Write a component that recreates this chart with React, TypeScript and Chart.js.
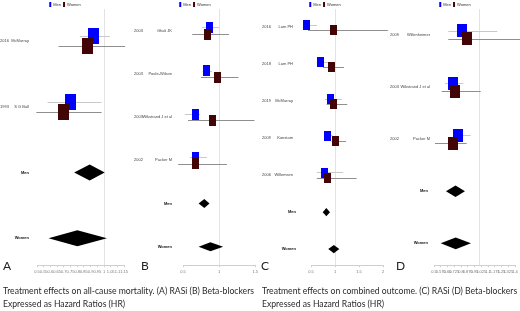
import React, { useEffect, useRef } from "react";
import { Chart, registerables } from "chart.js";

Chart.register(...registerables);
Chart.defaults.font.family = '"Liberation Sans", Arial, sans-serif';

const SERIES = ["Men", "Women"];
const POOLED_LABELS = ["Men", "Women"];
const REF_VALUE = 1;

// ---------- Panel A : RASi, all-cause mortality ----------
const A_YEARS = ["2016", "1993"];
const A_STUDIES = ["McMurray", "S G Ball"];
const A_MEN_HR = [0.925, 0.747];
const A_MEN_LO = [0.821, 0.579];
const A_MEN_HI = [1.045, 0.982];
const A_WOMEN_HR = [0.874, 0.696];
const A_WOMEN_LO = [0.661, 0.495];
const A_WOMEN_HI = [1.157, 0.982];
const A_POOLED_MEN = [0.777, 0.893, 1.005]; // lo, est, hi
const A_POOLED_WOMEN = [0.586, 0.801, 1.022];
const A_TICKS = [0.5, 0.55, 0.6, 0.65, 0.7, 0.75, 0.8, 0.85, 0.9, 0.95, 1, 1.05, 1.1, 1.15];

// ---------- Panel B : Beta-blockers, all-cause mortality ----------
const B_YEARS = ["2003", "2003", "2003", "2002"];
const B_STUDIES = ["Ghali JK", "Poole-Wilson", "Wikstrand J et al", "Packer M"];
const B_MEN_HR = [0.867, 0.82, 0.672, 0.672];
const B_MEN_LO = [0.765, 0.77, 0.526, 0.593];
const B_MEN_HI = [1.003, 0.9, 0.738, 0.831];
const B_WOMEN_HR = [0.838, 0.983, 0.915, 0.672];
const B_WOMEN_LO = [0.628, 0.748, 0.57, 0.434];
const B_WOMEN_HI = [1.136, 1.268, 1.49, 1.109];
const B_POOLED_MEN = [0.716, 0.795, 0.867];
const B_POOLED_WOMEN = [0.716, 0.88, 1.056];
const B_TICKS = [0.5, 1, 1.5];

// ---------- Panel C : RASi, combined outcome ----------
const C_YEARS = ["2016", "2018", "2019", "2009", "2006"];
const C_STUDIES = ["Lam PH", "Lam PH", "McMurray", "Konstam", "Willemsen"];
const C_MEN_HR = [0.41, 0.694, 0.9125, 0.854, 0.79];
const C_MEN_LO = [0.4375, 0.62, 0.79, 0.8, 0.62];
const C_MEN_HI = [0.625, 0.86, 1.14, 0.95, 1.17];
const C_WOMEN_HR = [0.979, 0.933, 0.979, 1.017, 0.848];
const C_WOMEN_LO = [0.4375, 0.75, 0.827, 0.93, 0.62];
const C_WOMEN_HI = [2.1, 1.1875, 1.256, 1.23, 1.45];
const C_POOLED_MEN = [0.744, 0.819, 0.896];
const C_POOLED_WOMEN = [0.86, 0.975, 1.09];
const C_TICKS = [0.5, 1, 1.5, 2];

// ---------- Panel D : Beta-blockers, combined outcome ----------
const D_YEARS = ["2009", "2003", "2002"];
const D_STUDIES = ["Willenheimer", "Wikstrand J et al", "Packer M"];
const D_MEN_HR = [0.811, 0.711, 0.759];
const D_MEN_LO = [0.659, 0.622, 0.733];
const D_MEN_HI = [1.203, 0.826, 0.908];
const D_WOMEN_HR = [0.859, 0.728, 0.711];
const D_WOMEN_LO = [0.659, 0.586, 0.511];
const D_WOMEN_HI = [1.456, 1.019, 0.863];
const D_POOLED_MEN = [0.633, 0.739, 0.844];
const D_POOLED_WOMEN = [0.574, 0.741, 0.911];
const D_TICKS = [0.5, 0.575, 0.65, 0.725, 0.8, 0.875, 0.95, 1.025, 1.1, 1.175, 1.25, 1.325, 1.4];

const MEN_COLOR = "#0000ff";
const WOMEN_COLOR = "#420404";
const MEN_CI = "#c9c9c9";
const WOMEN_CI = "#8f8f8f";

type Panel = {
  letter: string;
  years: string[];
  studies: string[];
  menHR: number[]; menLo: number[]; menHi: number[];
  womenHR: number[]; womenLo: number[]; womenHi: number[];
  pooledMen: number[]; pooledWomen: number[];
  ticks: number[];
  // layout/style
  xMin: number; xMax: number; yMin: number; yMax: number;
  padL: number; padR: number;
  sqW: number; sqH: number; off: number; dh: number;
  yearX: number; nameX: number; pooledX: number;
};

const PANELS: Panel[] = [
  {
    letter: "A", years: A_YEARS, studies: A_STUDIES,
    menHR: A_MEN_HR, menLo: A_MEN_LO, menHi: A_MEN_HI,
    womenHR: A_WOMEN_HR, womenLo: A_WOMEN_LO, womenHi: A_WOMEN_HI,
    pooledMen: A_POOLED_MEN, pooledWomen: A_POOLED_WOMEN, ticks: A_TICKS,
    xMin: 0.5, xMax: 1.15, yMin: -0.365, yMax: 3.412,
    padL: 37, padR: 0,
    sqW: 11, sqH: 16, off: 4.9, dh: 8,
    yearX: 0, nameX: 29, pooledX: 29,
  },
  {
    letter: "B", years: B_YEARS, studies: B_STUDIES,
    menHR: B_MEN_HR, menLo: B_MEN_LO, menHi: B_MEN_HI,
    womenHR: B_WOMEN_HR, womenLo: B_WOMEN_LO, womenHi: B_WOMEN_HI,
    pooledMen: B_POOLED_MEN, pooledWomen: B_POOLED_WOMEN, ticks: B_TICKS,
    xMin: 0.5, xMax: 1.5, yMin: -0.319, yMax: 5.43,
    padL: 53, padR: 2,
    sqW: 7, sqH: 10.5, off: 3.3, dh: 4.5,
    yearX: 4, nameX: 42, pooledX: 42,
  },
  {
    letter: "C", years: C_YEARS, studies: C_STUDIES,
    menHR: C_MEN_HR, menLo: C_MEN_LO, menHi: C_MEN_HI,
    womenHR: C_WOMEN_HR, womenLo: C_WOMEN_LO, womenHi: C_WOMEN_HI,
    pooledMen: C_POOLED_MEN, pooledWomen: C_POOLED_WOMEN, ticks: C_TICKS,
    xMin: 0.5, xMax: 2, yMin: -0.278, yMax: 6.435,
    padL: 51, padR: 7,
    sqW: 7, sqH: 9.5, off: 2.7, dh: 4.2,
    yearX: 2, nameX: 33, pooledX: 36,
  },
  {
    letter: "D", years: D_YEARS, studies: D_STUDIES,
    menHR: D_MEN_HR, menLo: D_MEN_LO, menHi: D_MEN_HI,
    womenHR: D_WOMEN_HR, womenLo: D_WOMEN_LO, womenHi: D_WOMEN_HI,
    pooledMen: D_POOLED_MEN, pooledWomen: D_POOLED_WOMEN, ticks: D_TICKS,
    xMin: 0.5, xMax: 1.4, yMin: -0.339, yMax: 4.419,
    padL: 44, padR: 5,
    sqW: 9.5, sqH: 12.5, off: 4, dh: 5.8,
    yearX: 0, nameX: 40, pooledX: 38,
  },
];

function makeForestPlugin(p: Panel) {
  return {
    id: "forest" + p.letter,
    beforeDatasetsDraw(chart: any) {
      const { ctx, chartArea: ca, scales } = chart;
      const rx = Math.round(scales.x.getPixelForValue(REF_VALUE)) + 0.5;
      ctx.save();
      ctx.strokeStyle = "#e3e3e3";
      ctx.lineWidth = 1;
      ctx.beginPath();
      ctx.moveTo(rx, ca.top - 8);
      ctx.lineTo(rx, ca.bottom);
      ctx.stroke();
      ctx.restore();
    },
    afterDatasetsDraw(chart: any) {
      const { ctx } = chart;
      const x = chart.scales.x;
      const y = chart.scales.y;
      const n = p.studies.length;
      ctx.save();
      const hline = (lo: number, hi: number, py: number, color: string) => {
        const yy = Math.round(py) + 0.5;
        ctx.strokeStyle = color;
        ctx.lineWidth = 1;
        ctx.beginPath();
        ctx.moveTo(x.getPixelForValue(lo), yy);
        ctx.lineTo(x.getPixelForValue(hi), yy);
        ctx.stroke();
      };
      const box = (v: number, py: number, color: string) => {
        const cx = x.getPixelForValue(v);
        ctx.fillStyle = color;
        ctx.fillRect(Math.round(cx - p.sqW / 2), Math.round(py - p.sqH / 2), Math.round(p.sqW), Math.round(p.sqH));
      };
      for (let i = 0; i < n; i++) {
        const cy = y.getPixelForValue(i);
        hline(p.menLo[i], p.menHi[i], cy - p.off, MEN_CI);
        hline(p.womenLo[i], p.womenHi[i], cy + p.off, WOMEN_CI);
      }
      for (let i = 0; i < n; i++) box(p.menHR[i], y.getPixelForValue(i) - p.off, MEN_COLOR);
      for (let i = 0; i < n; i++) box(p.womenHR[i], y.getPixelForValue(i) + p.off, WOMEN_COLOR);

      const diamond = (ci: number[], row: number) => {
        const cy = y.getPixelForValue(row);
        ctx.fillStyle = "#000";
        ctx.beginPath();
        ctx.moveTo(x.getPixelForValue(ci[0]), cy);
        ctx.lineTo(x.getPixelForValue(ci[1]), cy - p.dh);
        ctx.lineTo(x.getPixelForValue(ci[2]), cy);
        ctx.lineTo(x.getPixelForValue(ci[1]), cy + p.dh);
        ctx.closePath();
        ctx.fill();
      };
      diamond(p.pooledMen, n);
      diamond(p.pooledWomen, n + 1);

      ctx.textBaseline = "middle";
      ctx.fillStyle = "#444";
      ctx.font = '4px "Liberation Sans", Arial, sans-serif';
      for (let i = 0; i < n; i++) {
        const cy = y.getPixelForValue(i);
        ctx.textAlign = "left";
        ctx.fillText(p.years[i], p.yearX, cy);
        ctx.textAlign = "right";
        ctx.fillText(p.studies[i], p.nameX, cy);
      }
      ctx.fillStyle = "#111";
      ctx.font = 'bold 4px "Liberation Sans", Arial, sans-serif';
      ctx.textAlign = "right";
      POOLED_LABELS.forEach((lab, k) => {
        ctx.fillText(lab, p.pooledX, y.getPixelForValue(n + k));
      });
      ctx.restore();
    },
  };
}

function ForestPanel({ p, left }: { p: Panel; left: number }) {
  const ref = useRef<HTMLCanvasElement>(null);
  useEffect(() => {
    const canvas = ref.current!;
    const chart = new Chart(canvas, {
      type: "scatter",
      data: {
        datasets: [
          {
            label: SERIES[0],
            data: p.menHR.map((v, i) => ({ x: v, y: i })),
            backgroundColor: MEN_COLOR,
            borderColor: MEN_COLOR,
            borderWidth: 0,
            pointRadius: 0,
            pointHoverRadius: 0,
          },
          {
            label: SERIES[1],
            data: p.womenHR.map((v, i) => ({ x: v, y: i })),
            backgroundColor: WOMEN_COLOR,
            borderColor: WOMEN_COLOR,
            borderWidth: 0,
            pointRadius: 0,
            pointHoverRadius: 0,
          },
        ],
      },
      options: {
        animation: false,
        responsive: false,
        maintainAspectRatio: false,
        events: [],
        layout: { padding: 0 },
        plugins: {
          legend: {
            display: true,
            position: "top",
            labels: {
              boxWidth: 2,
              boxHeight: 5,
              padding: 2,
              color: "#333",
              font: { size: 4 },
            },
          },
          tooltip: { enabled: false },
        },
        scales: {
          x: {
            type: "linear",
            position: "bottom",
            min: p.xMin,
            max: p.xMax,
            afterBuildTicks: (a: any) => {
              a.ticks = p.ticks.map((v) => ({ value: v }));
            },
            ticks: {
              autoSkip: false,
              maxRotation: 0,
              minRotation: 0,
              padding: 2,
              color: "#777",
              font: { size: 4 },
              callback: (v: any) => String(v),
            },
            grid: { drawOnChartArea: false, drawTicks: true, tickLength: 2, color: "#cfcfcf" },
            border: { color: "#cfcfcf" },
          },
          y: {
            type: "linear",
            position: "left",
            reverse: true,
            min: p.yMin,
            max: p.yMax,
            ticks: { display: false },
            grid: { display: false, drawTicks: false },
            border: { display: false },
            afterFit: (a: any) => {
              a.width = p.padL;
            },
          },
          yR: {
            type: "linear",
            position: "right",
            ticks: { display: false },
            grid: { display: false, drawTicks: false },
            border: { display: false },
            afterFit: (a: any) => {
              a.width = p.padR;
            },
          },
        },
      } as any,
      plugins: [makeForestPlugin(p)],
    });
    return () => chart.destroy();
  }, [p]);
  return (
    <canvas
      ref={ref}
      width={130}
      height={276}
      style={{ position: "absolute", left, top: 0, width: 130, height: 276 }}
    />
  );
}

const LETTER_POS = [
  { l: 3, t: 259 },
  { l: 141, t: 259 },
  { l: 261, t: 259 },
  { l: 396, t: 259 },
];

export default function App() {
  const capStyle: React.CSSProperties = {
    position: "absolute",
    top: 283.5,
    fontFamily: "Lato, 'Open Sans', sans-serif",
    fontSize: 9.4,
    lineHeight: "13px",
    color: "#2a2a2a",
    whiteSpace: "nowrap",
    transform: "scaleX(0.92)",
    transformOrigin: "0 0",
  };
  return (
    <div
      style={{
        position: "absolute",
        left: 0,
        top: 0,
        width: 520,
        height: 311,
        background: "#fff",
        overflow: "hidden",
      }}
    >
      {PANELS.map((p, i) => (
        <ForestPanel key={p.letter} p={p} left={i * 130} />
      ))}
      {PANELS.map((p, i) => (
        <div
          key={"L" + p.letter}
          style={{
            position: "absolute",
            left: LETTER_POS[i].l,
            top: LETTER_POS[i].t,
            fontFamily: "Lato, 'Open Sans', sans-serif",
            fontSize: 12,
            lineHeight: "14px",
            color: "#222",
          }}
        >
          {p.letter}
        </div>
      ))}
      <div style={{ ...capStyle, left: 3 }}>
        Treatment effects on all-cause mortality. (A) RASi (B) Beta-blockers
        <br />
        Expressed as Hazard Ratios (HR)
      </div>
      <div style={{ ...capStyle, left: 262 }}>
        Treatment effects on combined outcome. (C) RASi (D) Beta-blockers
        <br />
        Expressed as Hazard Ratios (HR)
      </div>
    </div>
  );
}
